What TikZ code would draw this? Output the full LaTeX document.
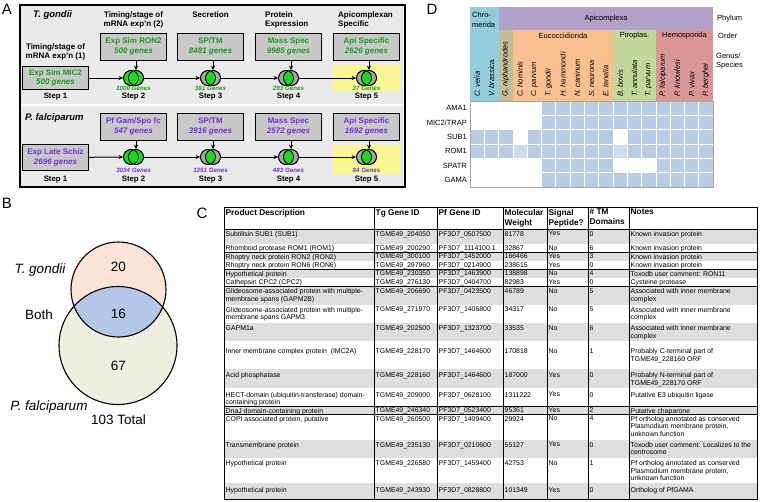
\documentclass[tikz,border=0pt]{standalone}
\usepackage{fontspec}
\setmainfont{Liberation Sans}
\usetikzlibrary{arrows.meta,positioning}

\definecolor{tggreen}{RGB}{34,150,34}
\definecolor{pfpurple}{RGB}{110,50,215}
\definecolor{vennon}{RGB}{30,215,30}
\definecolor{venngray}{RGB}{165,165,165}
\definecolor{boxgray}{RGB}{200,200,200}
\definecolor{panelgray}{RGB}{234,234,234}
\definecolor{hiyellow}{RGB}{250,247,150}
\definecolor{chromblue}{RGB}{146,205,220}
\definecolor{apipurple}{RGB}{177,160,199}
\definecolor{gregtan}{RGB}{196,189,151}
\definecolor{coccorange}{RGB}{250,191,143}
\definecolor{pirogreen}{RGB}{196,215,155}
\definecolor{hemored}{RGB}{218,150,148}
\definecolor{dcell0}{RGB}{255,255,255}
\definecolor{dcell1}{RGB}{184,204,228}
\definecolor{dcell2}{RGB}{205,219,238}
\definecolor{tgpeach}{RGB}{252,228,214}
\definecolor{pfgreen}{RGB}{235,241,222}
\definecolor{bothblue}{RGB}{180,199,231}
\definecolor{rowgray}{RGB}{222,222,222}

\tikzset{
  panel/.style={font=\fontsize{15}{15}\selectfont, inner sep=0pt},
  hdr/.style={font=\fontsize{8}{9.6}\selectfont\bfseries, align=center, inner sep=0pt},
  orgname/.style={font=\fontsize{9.5}{11}\selectfont\bfseries\itshape, inner sep=0pt, anchor=west},
  stepbox/.style={draw, line width=1pt, fill=boxgray, minimum width=66pt, minimum height=27pt,
    inner sep=1pt, align=center, font=\fontsize{8}{9.5}\selectfont\bfseries},
  steplab/.style={font=\fontsize{7.8}{9}\selectfont\bfseries, inner sep=0pt},
  genes/.style={font=\fontsize{6.2}{7}\selectfont\bfseries\itshape, inner sep=0pt},
  vcirc/.style={circle, draw, line width=0.7pt, minimum size=15pt, inner sep=0pt},
  arr/.style={-{Stealth[length=4.5pt,width=4pt]}, line width=1pt},
  vennlab/.style={font=\fontsize{13.5}{15}\selectfont, inner sep=0pt},
  cell/.style={font=\fontsize{6.9}{7.6}\selectfont, align=left, inner sep=0pt, anchor=north west},
  colhead/.style={font=\fontsize{8.3}{10}\selectfont\bfseries, align=left, inner sep=0pt, anchor=north west},
  dlab/.style={font=\fontsize{7.5}{8.5}\selectfont, inner sep=0pt},
  species/.style={font=\fontsize{7.5}{8.5}\selectfont\itshape, inner sep=0pt, rotate=90, anchor=west}
}

% two overlapping circles: name, x, y, fill of the circles
\newcommand{\vennpair}[4]{%
  \node[vcirc, fill=#4] (#1l) at (#2-2.5,#3) {};
  \node[vcirc, fill=#4] (#1r) at (#2+2.5,#3) {};
  \begin{scope}
    \clip (#2-2.5,#3) circle (7.5);
    \fill[vennon] (#2+2.5,#3) circle (7.5);
  \end{scope}
  \draw[line width=0.7pt] (#2-2.5,#3) circle (7.5) (#2+2.5,#3) circle (7.5);
}

\begin{document}
\begin{tikzpicture}[x=1pt, y=-1pt]
\useasboundingbox (0,0) rectangle (760,501);
\fill[white] (0,0) rectangle (760,501);

% Panel letters
\node[panel] (la) at (7,9) {A};
\node[panel] (lb) at (7,203) {B};
\node[panel] (lc) at (202,213) {C};
\node[panel] (ld) at (432,9) {D};

% Panel A: frame
\fill[panelgray] (20,5) rectangle (405,103.5);
\fill[panelgray] (20,105.5) rectangle (405,187);
\fill[hiyellow] (333,65) rectangle (400,91);
\fill[hiyellow] (333,145) rectangle (400,174);
\draw[line width=1.6pt] (20,5) rectangle (405,187);

% Panel A: headers
\node[orgname] (tgname) at (33,15) {T. gondii};
\node[orgname] (pfname) at (25,118) {P. falciparum};
\node[hdr] (h1) at (55.5,52) {Timing/stage of\\mRNA exp'n (1)};
\node[hdr] (h2) at (133.5,20) {Timing/stage of\\mRNA exp'n (2)};
\node[hdr] (h3) at (210.5,15) {Secretion};
\node[hdr, align=left, anchor=west] (h4) at (265,20) {Protein\\Expression};
\node[hdr, align=left, anchor=west] (h5) at (338,20) {Apicomplexan\\Specific};

% Panel A: T. gondii row
\node[stepbox, text=tggreen, minimum height=23pt] (tgb1) at (55.5,78) {Exp Sim MIC2\\\textit{500 genes}};
\node[stepbox, text=tggreen] (tgb2) at (133.5,46.5) {Exp Sim RON2\\\textit{500 genes}};
\node[stepbox, text=tggreen] (tgb3) at (210.5,46.5) {SP/TM\\\textit{8481 genes}};
\node[stepbox, text=tggreen] (tgb4) at (288.5,46.5) {Mass Spec\\\textit{9985 genes}};
\node[stepbox, text=tggreen] (tgb5) at (366.5,46.5) {Api Specific\\\textit{2626 genes}};
\vennpair{tgv2}{133.5}{78}{vennon}
\vennpair{tgv3}{210.5}{78}{venngray}
\vennpair{tgv4}{288.5}{78}{venngray}
\vennpair{tgv5}{366.5}{78}{venngray}
\node[genes, text=tggreen] (tgn2) at (133.5,88.5) {1000 Genes};
\node[genes, text=tggreen] (tgn3) at (210.5,88.5) {381 Genes};
\node[genes, text=tggreen] (tgn4) at (288.5,88.5) {293 Genes};
\node[genes, text=tggreen] (tgn5) at (366.5,88.5) {37 Genes};
\node[steplab] (tgs1) at (55.5,97) {Step 1};
\node[steplab] (tgs2) at (133.5,97) {Step 2};
\node[steplab] (tgs3) at (210.5,97) {Step 3};
\node[steplab] (tgs4) at (288.5,97) {Step 4};
\node[steplab] (tgs5) at (366.5,97) {Step 5};
\draw[arr] (tgb1) -- (tgv2l);
\draw[arr] (tgv2r) -- (tgv3l);
\draw[arr] (tgv3r) -- (tgv4l);
\draw[arr] (tgv4r) -- (tgv5l);
\draw[arr] (tgb2.south -| tgv2r) -- (tgv2r.north);
\draw[arr] (tgb3.south -| tgv3r) -- (tgv3r.north);
\draw[arr] (tgb4.south -| tgv4r) -- (tgv4r.north);
\draw[arr] (tgb5.south -| tgv5r) -- (tgv5r.north);

% Panel A: P. falciparum row
\node[stepbox, text=pfpurple, minimum height=26pt] (pfb1) at (55.5,157.5) {Exp Late Schiz\\\textit{2696 genes}};
\node[stepbox, text=pfpurple] (pfb2) at (133.5,126.5) {Pf Gam/Spo fc\\\textit{547 genes}};
\node[stepbox, text=pfpurple] (pfb3) at (210.5,126.5) {SP/TM\\\textit{3916 genes}};
\node[stepbox, text=pfpurple] (pfb4) at (288.5,126.5) {Mass Spec\\\textit{2572 genes}};
\node[stepbox, text=pfpurple] (pfb5) at (366.5,126.5) {Api Specific\\\textit{1692 genes}};
\vennpair{pfv2}{133.5}{157}{vennon}
\vennpair{pfv3}{210.5}{157}{venngray}
\vennpair{pfv4}{288.5}{157}{venngray}
\vennpair{pfv5}{366.5}{157}{venngray}
\node[genes, text=pfpurple] (pfn2) at (133.5,170) {3034 Genes};
\node[genes, text=pfpurple] (pfn3) at (210.5,170) {1351 Genes};
\node[genes, text=pfpurple] (pfn4) at (288.5,170) {483 Genes};
\node[genes, text=pfpurple] (pfn5) at (366.5,170) {84 Genes};
\node[steplab] (pfs1) at (55.5,180) {Step 1};
\node[steplab] (pfs2) at (133.5,180) {Step 2};
\node[steplab] (pfs3) at (210.5,180) {Step 3};
\node[steplab] (pfs4) at (288.5,180) {Step 4};
\node[steplab] (pfs5) at (366.5,180) {Step 5};
\draw[arr] (pfb1) -- (pfv2l);
\draw[arr] (pfv2r) -- (pfv3l);
\draw[arr] (pfv3r) -- (pfv4l);
\draw[arr] (pfv4r) -- (pfv5l);
\draw[arr] (pfb2.south -| pfv2r) -- (pfv2r.north);
\draw[arr] (pfb3.south -| pfv3r) -- (pfv3r.north);
\draw[arr] (pfb4.south -| pfv4r) -- (pfv4r.north);
\draw[arr] (pfb5.south -| pfv5r) -- (pfv5r.north);

% Panel B: Venn diagram
\fill[tgpeach] (118.5,289.5) circle (47.5);
\fill[pfgreen] (118,345.5) circle (59);
\begin{scope}
  \clip (118.5,289.5) circle (47.5);
  \fill[bothblue] (118,345.5) circle (59);
\end{scope}
\draw[line width=1.1pt] (118.5,289.5) circle (47.5) (118,345.5) circle (59);
\node[vennlab] (tgonly) at (118.5,267) {20};
\node[vennlab] (both) at (118.5,314) {16};
\node[vennlab] (pfonly) at (118.5,366) {67};
\node[vennlab, font=\fontsize{13.5}{15}\selectfont\itshape] (tglab) at (40,270) {T. gondii};
\node[vennlab] (bothlab) at (39,315) {Both};
\node[vennlab, font=\fontsize{13.5}{15}\selectfont\itshape] (pflab) at (49,407) {P. falciparum};
\node[vennlab] (total) at (118.5,420) {103 Total};

% Panel D: header blocks
\fill[chromblue] (470,7) rectangle (498.6,101);
\fill[apipurple] (498.6,7) rectangle (713,30);
\fill[gregtan] (498.6,30) rectangle (512.9,101);
\fill[coccorange] (512.9,30) rectangle (613,101);
\fill[pirogreen] (613,30) rectangle (655.9,101);
\fill[hemored] (655.9,30) rectangle (713,101);
\node[dlab, font=\fontsize{7.5}{10}\selectfont, align=left, anchor=north west] (chrom) at (472,12.3) {Chro-\\merida};
\node[dlab] (apic) at (606,19) {Apicomplexa};
\node[dlab] (eucoc) at (563,36) {Eucoccidiorida};
\node[dlab] (pirop) at (634.5,36) {Piroplas.};
\node[dlab] (hemos) at (684.5,36) {Hemosporida};
\node[dlab, anchor=west] (phyl) at (717,19) {Phylum};
\node[dlab, anchor=west] (ordr) at (718,36) {Order};
\node[dlab, align=left, anchor=west] (genus) at (716,61) {Genus/\\Species};
\foreach \spname [count=\c from 0] in {C. velia, V. brassica., G. niphandrodes, C. hominis,
    C. parvum, T. gondii, H. hammondi, N. caninum, S. neurona, E. tenella, B. bovis,
    T. annulata, T. parvum, P. falciparum, P. knowlesi, P. vivax, P. berghei}
  \node[species] (sp\c) at (477.15+14.294*\c,97) {\spname};

% Panel D: presence grid
\foreach \g/\pat [count=\r from 0] in {
    AMA1/{0,0,0,0,0,1,1,1,1,1,1,1,1,1,1,1,1},
    {MIC2/TRAP}/{0,0,0,0,0,1,1,1,1,1,1,1,1,1,1,1,1},
    SUB1/{1,1,1,0,1,1,1,1,1,1,0,1,1,1,1,1,1},
    ROM1/{1,1,1,2,1,1,1,1,1,1,2,1,1,1,1,1,1},
    SPATR/{0,0,0,0,0,1,1,1,1,1,0,0,0,1,1,1,1},
    GAMA/{0,0,0,0,0,1,1,1,1,1,1,1,1,1,1,1,1}} {
  \node[dlab, anchor=east] (gene\r) at (467,108.17+14.333*\r) {\g};
  \foreach \v [count=\c from 0] in \pat
    \fill[dcell\v] (470+14.294*\c,101+14.333*\r) rectangle ++(14.294,14.333);
}
\foreach \c in {1,...,16}
  \draw[white, line width=0.6pt] (470+14.294*\c,101) -- ++(0,86);
\foreach \r in {1,...,5}
  \draw[white, line width=0.6pt] (470,101+14.333*\r) -- ++(243,0);
\draw[black!35, line width=0.6pt] (470,101) rectangle (713,187);

% Panel C: table rows
\foreach \ytop/\ybot/\ytxt/\rowfill/\descr/\tgid/\pfid/\mwt/\sig/\ntm/\nts [count=\r] in {
  229/244/233.5/rowgray/{Subtilisin SUB1 (SUB1)}/204050/0507500/81778/Yes/0/{Known invasion protein},
  244/252.5/247.8/white/{Rhomboid protease ROM1 (ROM1)}/200290/1114100.1/32867/No/6/{Known invasion protein},
  252.5/261/256.3/rowgray/{Rhoptry neck protein RON2 (RON2)}/300100/1452000/166466/Yes/3/{Known invasion protein},
  261/269.5/264.8/white/{Rhoptry neck protein RON6 (RON6)}/297960/0214900/238615/Yes/0/{Known invasion protein},
  269.5/278/273.3/rowgray/{Hypothetical protein}/230350/1463900/138898/No/4/{Toxodb user comment: RON11},
  278/286.5/281.8/white/{Cathepsin CPC2 (CPC2)}/276130/0404700/82983/Yes/0/{Cysteine protease},
  286.5/305/290.8/rowgray/{Glideosome-associated protein with multiple-\\membrane spans (GAPM2B)}/206690/0423500/46789/No/5/{Associated with inner membrane\\complex},
  305/323/309.3/white/{Glideosome-associated protein with multiple-\\membrane spans GAPM3}/271970/1406800/34317/No/5/{Associated with inner membrane\\complex},
  323/341/328/rowgray/{GAPM1a}/202500/1323700/33535/No/6/{Associated with inner membrane\\complex},
  341/369/351/white/{Inner membrane complex protein \ (IMC2A)}/228170/1464600/170818/No/1/{Probably C-terminal part of\\TGME49\_228160 ORF},
  369/388/375/rowgray/{Acid phosphatase}/228160/1464600/187000/Yes/0/{Probably N-terminal part of\\TGME49\_228170 ORF},
  388/406.5/394.5/white/{HECT-domain (ubiquitin-transferase) domain-\\containing protein}/209000/0628100/1311222/Yes/0/{Putative E3 ubiquitin ligase},
  406.5/414.5/410.3/rowgray/{DnaJ domain-containing protein}/246340/0523400/95361/Yes/2/{Putative chaparone},
  414.5/440/418.5/white/{COPI associated protein, putative}/260500/1409400/29924/No/4/{Pf ortholog annotated as conserved\\Plasmodium membrane protein,\\unknown function},
  440/458/444.5/rowgray/{Transmembrane protein}/235130/0210600/55127/Yes/0/{Toxodb user comment: Localizes to the\\centrosome},
  458/483/463/white/{Hypothetical protein}/226580/1459400/42753/No/1/{Pf ortholog annotated as conserved\\Plasmodium membrane protein,\\unknown function},
  483/499/490/rowgray/{Hypothetical protein}/243930/0828800/101349/Yes/0/{Ortholog of PfGAMA}} {
  \fill[\rowfill] (224,\ytop) rectangle (757,\ybot);
  \draw[line width=0.5pt] (224,\ybot) -- (757,\ybot);
  \node[cell] (desc\r) at (225.5,\ytxt-2.5) {\descr};
  \node[cell] (tg\r) at (375.5,\ytxt-2.5) {TGME49\_\tgid};
  \node[cell] (pf\r) at (438.5,\ytxt-2.5) {PF3D7\_\pfid};
  \node[cell] (mw\r) at (504.5,\ytxt-2.5) {\mwt};
  \node[cell] (sig\r) at (548.5,\ytxt-2.5) {\sig};
  \node[cell] (tm\r) at (589.5,\ytxt-2.5) {\ntm};
  \node[cell] (note\r) at (630.5,\ytxt-2.5) {\nts};
}

% Panel C: header and rules
\node[colhead] (hprod) at (225.5,209) {Product Description};
\node[colhead] (htg) at (375.5,209) {Tg Gene ID};
\node[colhead] (hpf) at (438.5,209) {Pf Gene ID};
\node[colhead] (hmw) at (504.5,209) {Molecular\\Weight};
\node[colhead] (hsig) at (548.5,209) {Signal\\Peptide?};
\node[colhead] (htm) at (589.5,209) {\# TM\\Domains};
\node[colhead] (hnote) at (630.5,209) {Notes};
\draw[line width=0.5pt] (224,229) -- (757,229);
\foreach \xc in {374,437,503,547,588,629}
  \draw[line width=0.7pt] (\xc,207) -- (\xc,499);
\draw[line width=0.8pt] (224,207) rectangle (757,499);
\end{tikzpicture}
\end{document}
